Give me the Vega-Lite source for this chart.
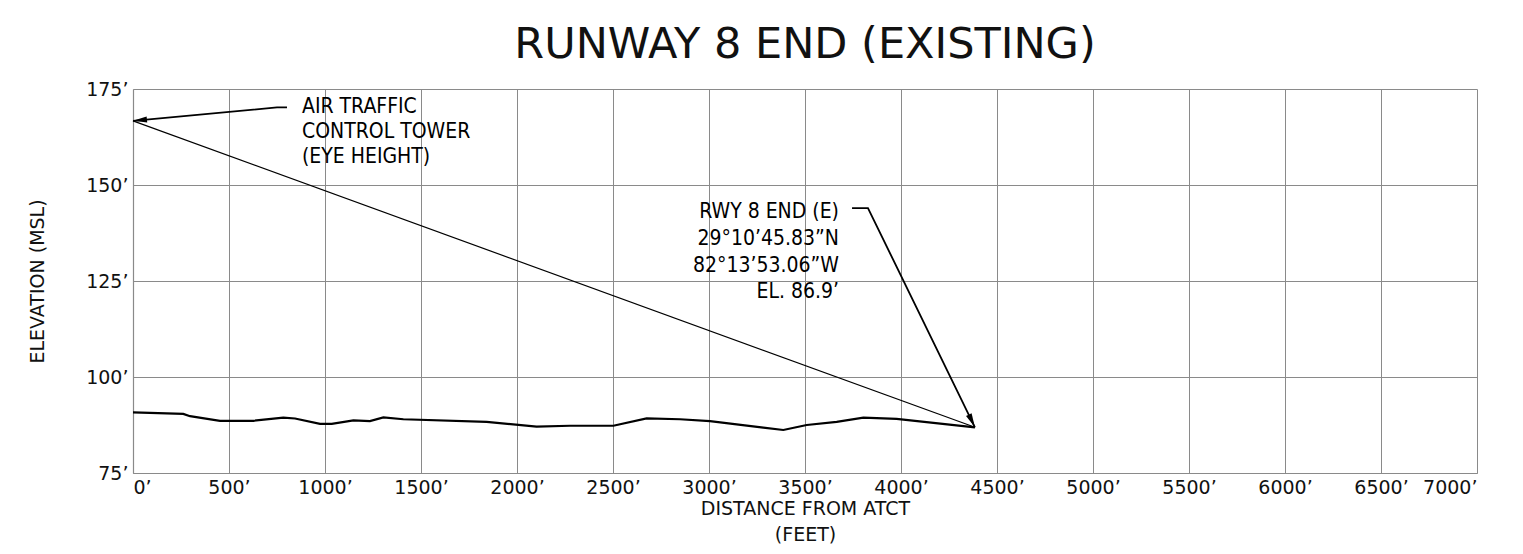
{
  "$schema": "https://vega.github.io/schema/vega-lite/v6.json",
  "width": 1344,
  "height": 384,
  "autosize": {"type": "none"},
  "padding": {"left": 133, "top": 89, "right": 46, "bottom": 81},
  "background": "white",
  "config": {
    "view": {"stroke": null},
    "font": "DejaVu Sans",
    "axis": {
      "labelFont": "DejaVu Sans",
      "titleFont": "DejaVu Sans",
      "labelFontWeight": "normal",
      "titleFontWeight": "normal",
      "labelColor": "#111",
      "titleColor": "#111",
      "gridColor": "#8a8a8a",
      "gridOpacity": 1,
      "gridWidth": 1,
      "domainColor": "#8a8a8a",
      "domainWidth": 1.2,
      "ticks": false
    }
  },
  "title": {
    "text": "RUNWAY 8 END (EXISTING)",
    "font": "DejaVu Sans",
    "fontSize": 43,
    "fontWeight": "normal",
    "color": "#111",
    "anchor": "middle",
    "frame": "group",
    "offset": 13
  },
  "datasets": {
    "terrain": [
      {"dist": 0, "elev": 90.8},
      {"dist": 262, "elev": 90.4},
      {"dist": 297, "elev": 89.8},
      {"dist": 453, "elev": 88.6},
      {"dist": 627, "elev": 88.6},
      {"dist": 783, "elev": 89.4},
      {"dist": 844, "elev": 89.2},
      {"dist": 974, "elev": 87.8},
      {"dist": 1035, "elev": 87.8},
      {"dist": 1148, "elev": 88.7},
      {"dist": 1234, "elev": 88.5},
      {"dist": 1304, "elev": 89.5},
      {"dist": 1408, "elev": 89.0},
      {"dist": 1842, "elev": 88.3},
      {"dist": 2102, "elev": 87.1},
      {"dist": 2276, "elev": 87.3},
      {"dist": 2502, "elev": 87.3},
      {"dist": 2675, "elev": 89.2},
      {"dist": 2849, "elev": 89.0},
      {"dist": 3005, "elev": 88.5},
      {"dist": 3283, "elev": 86.8},
      {"dist": 3387, "elev": 86.2},
      {"dist": 3509, "elev": 87.5},
      {"dist": 3665, "elev": 88.3},
      {"dist": 3804, "elev": 89.4},
      {"dist": 3977, "elev": 89.1},
      {"dist": 4385, "elev": 86.9}
    ],
    "sight": [
      {"dist": 0, "elev": 166.7},
      {"dist": 4385, "elev": 86.9}
    ],
    "leaders": [
      {"series": "tower", "ord": 1, "dist": 802, "elev": 170.2},
      {"series": "tower", "ord": 2, "dist": 750, "elev": 170.2},
      {"series": "tower", "ord": 3, "dist": 0, "elev": 166.7},
      {"series": "rwy", "ord": 1, "dist": 3745, "elev": 144.0},
      {"series": "rwy", "ord": 2, "dist": 3828, "elev": 144.0},
      {"series": "rwy", "ord": 3, "dist": 4385, "elev": 86.9}
    ],
    "towerText": [
      {"dist": 880, "elev": 168.75, "label": "AIR TRAFFIC"},
      {"dist": 880, "elev": 162.2, "label": "CONTROL TOWER"},
      {"dist": 880, "elev": 155.7, "label": "(EYE HEIGHT)"}
    ],
    "rwyText": [
      {"dist": 3677, "elev": 141.4, "label": "RWY 8 END (E)"},
      {"dist": 3677, "elev": 134.4, "label": "29°10’45.83”N"},
      {"dist": 3677, "elev": 127.3, "label": "82°13’53.06”W"},
      {"dist": 3677, "elev": 120.6, "label": "EL. 86.9’"}
    ]
  },
  "encoding": {
    "x": {
      "field": "dist",
      "type": "quantitative",
      "scale": {"domain": [0, 7000], "nice": false, "zero": false},
      "axis": {
        "values": [0, 500, 1000, 1500, 2000, 2500, 3000, 3500, 4000, 4500, 5000, 5500, 6000, 6500, 7000],
        "labelExpr": "datum.value + '’'",
        "labelFontSize": 19,
        "labelPadding": 5,
        "title": ["DISTANCE FROM ATCT", "(FEET)"],
        "titleFontSize": 19,
        "titleLineHeight": 26,
        "titleBaseline": "top",
        "titleX": 672,
        "titleY": 26
      }
    },
    "y": {
      "field": "elev",
      "type": "quantitative",
      "scale": {"domain": [75, 175], "nice": false, "zero": false},
      "axis": {
        "values": [75, 100, 125, 150, 175],
        "labelExpr": "datum.value + '’'",
        "labelFontSize": 19,
        "labelPadding": 5,
        "title": "ELEVATION (MSL)",
        "titleFontSize": 19,
        "titleBaseline": "middle",
        "titleX": -96,
        "titleY": 192
      }
    }
  },
  "layer": [
    {
      "data": {"name": "terrain"},
      "mark": {"type": "line", "color": "#000", "strokeWidth": 2.2},
      "encoding": {}
    },
    {
      "data": {"name": "sight"},
      "mark": {"type": "line", "color": "#000", "strokeWidth": 1.2},
      "encoding": {}
    },
    {
      "data": {"name": "leaders"},
      "mark": {"type": "line", "color": "#000", "strokeWidth": 1.8},
      "encoding": {
        "detail": {"field": "series"},
        "order": {"field": "ord"}
      }
    },
    {
      "data": {"name": "leaders"},
      "transform": [{"filter": "datum.series == 'tower' && datum.ord == 3"}],
      "mark": {"type": "point", "shape": "M0,0L-1,-0.22L-1,0.22Z", "size": 784, "angle": 174.4, "filled": true, "color": "#000", "opacity": 1}
    },
    {
      "data": {"name": "leaders"},
      "transform": [{"filter": "datum.series == 'rwy' && datum.ord == 3"}],
      "mark": {"type": "point", "shape": "M0,0L-1,-0.22L-1,0.22Z", "size": 784, "angle": 64.1, "filled": true, "color": "#000", "opacity": 1}
    },
    {
      "data": {"name": "towerText"},
      "mark": {"type": "text", "align": "left", "baseline": "alphabetic", "fontSize": 21, "color": "#000", "font": "DejaVu Sans Condensed"},
      "encoding": {"text": {"field": "label"}}
    },
    {
      "data": {"name": "rwyText"},
      "mark": {"type": "text", "align": "right", "baseline": "alphabetic", "fontSize": 21, "color": "#000", "font": "DejaVu Sans Condensed"},
      "encoding": {"text": {"field": "label"}}
    }
  ]
}
